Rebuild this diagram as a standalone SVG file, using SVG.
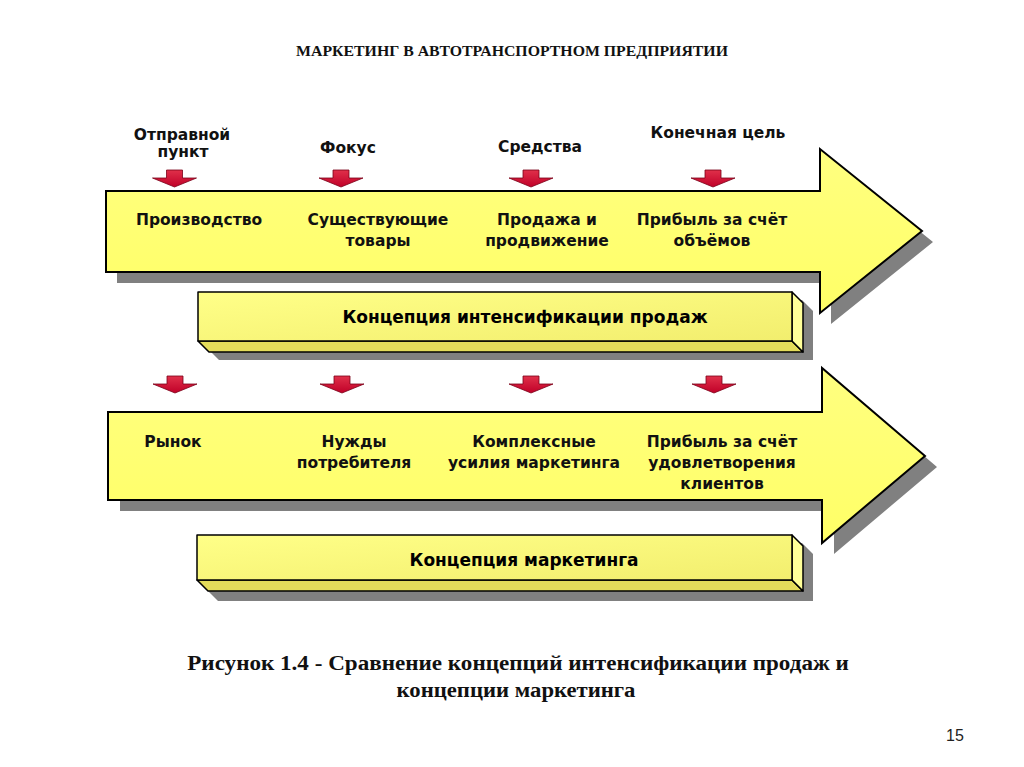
<svg xmlns="http://www.w3.org/2000/svg" width="1024" height="767" viewBox="0 0 1024 767">
<defs>
<style>
.t{font-family:"DejaVu Sans","Liberation Sans",sans-serif;font-weight:bold;font-size:15.5px;fill:#111;text-anchor:middle}
.bar{font-family:"DejaVu Sans","Liberation Sans",sans-serif;font-weight:bold;font-size:17px;fill:#000;text-anchor:middle}
.ser{font-family:"Liberation Serif","Times New Roman",serif;font-weight:bold;fill:#111;text-anchor:middle}
.shadow{fill:#808080}
.big{stroke:#000;stroke-width:2;stroke-linejoin:miter}
.face{stroke:#000;stroke-width:1.5;stroke-linejoin:round}
.red{fill:url(#rg);stroke:#7a0018;stroke-width:0.8}
</style>
<linearGradient id="yg" x1="0" y1="0" x2="0" y2="1">
<stop offset="0" stop-color="#ffff80"/>
<stop offset="1" stop-color="#ffff66"/>
</linearGradient>
<linearGradient id="bg" x1="0" y1="0" x2="1" y2="1">
<stop offset="0" stop-color="#ffff88"/>
<stop offset="1" stop-color="#f2ee6e"/>
</linearGradient>
<linearGradient id="rg" x1="0" y1="0" x2="0" y2="1">
<stop offset="0" stop-color="#e0304a"/>
<stop offset="1" stop-color="#c00028"/>
</linearGradient>
<path id="ra" d="M-8,0 H8 V8 H22 L0,17 L-22,8 H-8 Z"/>
</defs>

<g id="title">
<text class="ser" transform="translate(512,56) scale(1.054,1)" x="0" y="0" font-size="15">МАРКЕТИНГ В АВТОТРАНСПОРТНОМ ПРЕДПРИЯТИИ</text>
</g>

<g id="arrow-sales">
<polygon class="shadow" points="117,202 831,202 831,160 933,242 831,324 831,283 117,283"/>
<polygon class="big" fill="url(#yg)" points="106,191 820,191 820,149 922,231 820,313 820,272 106,272"/>
<text class="t" x="199" y="225">Производство</text>
<text class="t" x="378" y="225">Существующие</text>
<text class="t" x="378" y="246">товары</text>
<text class="t" x="547" y="225">Продажа и</text>
<text class="t" x="547" y="246">продвижение</text>
<text class="t" x="712" y="225">Прибыль за счёт</text>
<text class="t" x="712" y="246">объёмов</text>
</g>

<g id="labels-top">
<text class="t" x="182" y="140">Отправной</text>
<text class="t" x="183" y="157">пункт</text>
<text class="t" x="348" y="153">Фокус</text>
<text class="t" x="540" y="152">Средства</text>
<text class="t" x="718" y="138">Конечная цель</text>
</g>

<g id="connectors">
<use href="#ra" class="red" x="174.5" y="170"/>
<use href="#ra" class="red" x="341" y="170"/>
<use href="#ra" class="red" x="531" y="170"/>
<use href="#ra" class="red" x="713" y="170"/>
<use href="#ra" class="red" x="175" y="376"/>
<use href="#ra" class="red" x="342" y="376"/>
<use href="#ra" class="red" x="531" y="376"/>
<use href="#ra" class="red" x="714" y="376"/>
</g>

<g id="bar-sales">
<polygon class="shadow" points="208,300 802,300 813,311 813,360 219,360 208,349"/>
<polygon class="face" fill="#e4dc5a" points="198,341 792,341 803,352 209,352"/>
<polygon class="face" fill="#ffff99" points="792,292 803,303 803,352 792,341"/>
<rect class="face" fill="url(#bg)" x="198" y="292" width="594" height="49"/>
<text class="bar" x="525" y="323">Концепция интенсификации продаж</text>
</g>

<g id="arrow-marketing">
<polygon class="shadow" points="120,423 834,423 834,379 937,467 834,554 834,511 120,511"/>
<polygon class="big" fill="url(#yg)" points="108,412 822,412 822,368 925,456 822,543 822,500 108,500"/>
<text class="t" x="173" y="447">Рынок</text>
<text class="t" x="354" y="447">Нужды</text>
<text class="t" x="354" y="468">потребителя</text>
<text class="t" x="534" y="447">Комплексные</text>
<text class="t" x="534" y="468">усилия маркетинга</text>
<text class="t" x="722" y="447">Прибыль за счёт</text>
<text class="t" x="722" y="468">удовлетворения</text>
<text class="t" x="722" y="489">клиентов</text>
</g>

<g id="bar-marketing">
<polygon class="shadow" points="207,543 802,543 813,554 813,601 218,601 207,590"/>
<polygon class="face" fill="#e4dc5a" points="197,580 792,580 803,591 208,591"/>
<polygon class="face" fill="#ffff99" points="792,535 803,546 803,591 792,580"/>
<rect class="face" fill="url(#bg)" x="197" y="535" width="595" height="45"/>
<text class="bar" x="524" y="566">Концепция маркетинга</text>
</g>

<g id="caption">
<text class="ser" transform="translate(518,670) scale(1.1,1)" x="0" y="0" font-size="21">Рисунок 1.4 - Сравнение концепций интенсификации продаж и</text>
<text class="ser" transform="translate(516,697) scale(1.08,1)" x="0" y="0" font-size="21">концепции маркетинга</text>
</g>

<g id="page">
<text x="955" y="741" font-family="Liberation Sans, sans-serif" font-size="16" fill="#222" text-anchor="middle">15</text>
</g>
</svg>
